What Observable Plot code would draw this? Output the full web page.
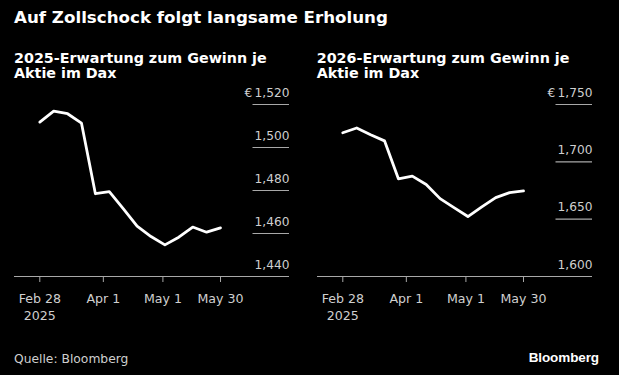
<!DOCTYPE html>
<html>
<head>
<meta charset="utf-8">
<script src="https://cdn.jsdelivr.net/npm/d3@7"></script>
<script src="https://cdn.jsdelivr.net/npm/@observablehq/plot@0.6"></script>
<style>
  html, body { margin: 0; padding: 0; background: #000; }
  #page { position: relative; width: 619px; height: 375px; background: #000; overflow: hidden; font-family: "DejaVu Sans", sans-serif; }
  .title { position: absolute; left: 14px; top: 6.9px; font-size: 16.7px; line-height: 20px; font-weight: bold; color: #fff; white-space: nowrap; }
  .sub { position: absolute; top: 50.9px; font-size: 14.3px; line-height: 15px; font-weight: bold; color: #fff; white-space: nowrap; }
  .chart { position: absolute; top: 84px; }
  .source { position: absolute; left: 14px; top: 351.5px; font-size: 12.3px; line-height: 15px; color: #cfcfcf; white-space: nowrap; }
  .logo { position: absolute; right: 20px; top: 349.5px; font-family: "Liberation Sans", sans-serif; font-size: 13.5px; line-height: 15px; font-weight: bold; color: #fff; letter-spacing: -0.1px; }
</style>
</head>
<body>
<div id="page">
  <div class="title">Auf Zollschock folgt langsame Erholung</div>
  <div class="sub" style="left:14px">2025-Erwartung zum Gewinn je<br>Aktie im Dax</div>
  <div class="sub" style="left:316.7px">2026-Erwartung zum Gewinn je<br>Aktie im Dax</div>
  <div class="chart" id="left" style="left:0px"></div>
  <div class="chart" id="right" style="left:302.7px"></div>
  <div class="source">Quelle: Bloomberg</div>
  <div class="logo">Bloomberg</div>
</div>
<script>
// Weekly dates
const dates = ["2025-02-28","2025-03-07","2025-03-14","2025-03-21","2025-03-28","2025-04-04","2025-04-11",
               "2025-04-18","2025-04-25","2025-05-02","2025-05-09","2025-05-16","2025-05-23","2025-05-30"];
// 2025 EPS expectation (EUR)
const eps2025 = [1511.8, 1516.9, 1515.7, 1511.3, 1478.5, 1479.5, 1471.6, 1463.4, 1458.6, 1454.7, 1458.3, 1463.0, 1460.6, 1462.6];
// 2026 EPS expectation (EUR)
const eps2026 = [1725.4, 1729.5, 1723.6, 1718.3, 1685.2, 1687.5, 1680.3, 1667.9, 1660.0, 1652.3, 1660.7, 1668.8, 1673.1, 1674.6];
// Axis ticks
const xTicks = ["2025-02-28","2025-04-01","2025-05-01","2025-05-30"];
const yTicks2025 = [1440, 1460, 1480, 1500, 1520];
const yTicks2026 = [1600, 1650, 1700, 1750];

const fmt = d3.format(",");
const dfmt = d3.utcFormat("%b %-d");

function chart(values, yTicks) {
  const data = dates.map((d, i) => ({date: new Date(d), value: values[i]}));
  const yMin = yTicks[0], yMax = yTicks[yTicks.length - 1];
  return Plot.plot({
    width: 303,
    height: 245,
    marginLeft: 14,
    marginRight: 14,
    marginTop: 20,
    marginBottom: 53,
    style: {background: "transparent", color: "#cfcfcf", fontFamily: "DejaVu Sans", fontSize: "12.2px", overflow: "visible"},
    x: {type: "utc", domain: [new Date(dates[0]), new Date(dates[dates.length - 1])], insetLeft: 25.3, insetRight: 69},
    y: {domain: [yMin, yMax], axis: null},
    marks: [
      Plot.ruleY(yTicks.slice(1), {stroke: "#a8a8a8", strokeWidth: 1.2, insetLeft: 238.5}),
      Plot.ruleY([yMin], {stroke: "#a8a8a8", strokeWidth: 1.2}),
      Plot.text(yTicks, {
        y: d => d,
        text: d => d === yMax ? "€\u2009" + fmt(d) : fmt(d),
        frameAnchor: "right", textAnchor: "end", lineAnchor: "bottom",
        dy: -8, fill: "#cfcfcf", fontSize: 12.2
      }),
      Plot.axisX(xTicks.map(d => new Date(d)), {
        tickSize: 6, tickPadding: 8, stroke: "#a8a8a8", fill: "#cfcfcf",
        fontSize: 12.6, lineHeight: 1.38,
        tickFormat: (d, i) => i === 0 ? dfmt(d) + "\n2025" : dfmt(d)
      }),
      Plot.line(data, {x: "date", y: "value", stroke: "#fff", strokeWidth: 2.8, strokeLinejoin: "round"})
    ]
  });
}

document.getElementById("left").append(chart(eps2025, yTicks2025));
document.getElementById("right").append(chart(eps2026, yTicks2026));
</script>
</body>
</html>
